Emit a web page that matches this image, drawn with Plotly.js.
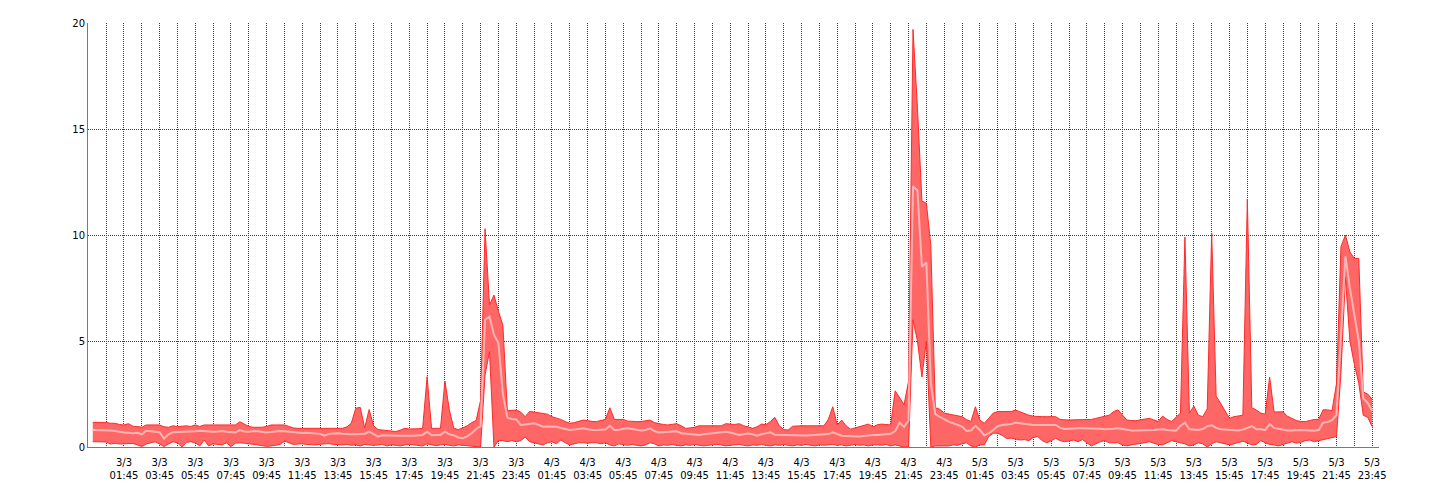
<!DOCTYPE html>
<html>
<head>
<meta charset="utf-8">
<script src="https://cdn.plot.ly/plotly-3.0.1.min.js"></script>
<style>
  html, body { margin: 0; padding: 0; background: #fff; }
  #chart { width: 1440px; height: 500px; }
</style>
</head>
<body>
<div id="chart"></div>
<script>
// Sampling: every 15 minutes from 3/3 00:00 to 5/3 23:45 (4 samples per hour, one row per hour)
const startTime = '2021-03-03T00:00:00';
const stepMinutes = 15;

const maxValues = [
  1.16, 1.16, 1.16, 1.16,
  1.12, 1.12, 1.06, 1.04,
  1.10, 0.98, 0.97, 0.93,
  1.04, 1.04, 1.04, 1.04,
  0.95, 0.93, 1.00, 0.96,
  0.98, 1.00, 0.97, 1.04,
  0.97, 1.04, 1.04, 1.04,
  1.04, 1.04, 1.04, 1.04,
  1.04, 1.19, 1.06, 0.97,
  0.93, 0.93, 0.93, 0.97,
  1.04, 1.04, 1.04, 1.04,
  0.97, 0.90, 0.88, 0.88,
  0.88, 0.88, 0.88, 0.88,
  0.88, 0.88, 0.88, 0.88,
  0.88, 0.95, 1.12, 1.83,
  1.87, 0.90, 1.77, 1.00,
  0.82, 0.80, 0.78, 0.75,
  0.73, 0.80, 0.88, 0.85,
  0.84, 0.86, 0.88, 3.32,
  0.88, 0.88, 0.88, 3.11,
  1.74, 0.88, 0.82, 0.90,
  1.00, 1.15, 1.25, 2.20,
  10.30, 6.70, 7.17, 6.40,
  5.75, 1.72, 1.72, 1.74,
  1.65, 1.43, 1.68, 1.65,
  1.62, 1.60, 1.55, 1.43,
  1.38, 1.30, 1.20, 1.12,
  1.15, 1.22, 1.27, 1.25,
  1.20, 1.20, 1.25, 1.30,
  1.85, 1.30, 1.30, 1.30,
  1.22, 1.20, 1.20, 1.20,
  1.22, 1.27, 1.15, 1.10,
  1.06, 1.04, 1.06, 1.10,
  1.00, 0.88, 0.90, 0.93,
  1.00, 1.00, 1.00, 1.00,
  1.00, 1.00, 1.10, 1.08,
  1.06, 1.10, 1.00, 0.95,
  0.88, 0.95, 1.08, 1.05,
  1.20, 1.40, 1.00, 0.82,
  0.80, 0.98, 1.00, 1.00,
  1.00, 1.00, 1.00, 1.00,
  1.00, 1.30, 1.90, 1.04,
  1.27, 1.00, 0.84, 0.90,
  0.95, 1.00, 1.08, 0.95,
  1.05, 1.08, 1.06, 1.04,
  2.65, 2.30, 2.00, 3.10,
  19.70, 16.00, 11.60, 11.50,
  9.50, 1.85, 1.78, 1.60,
  1.55, 1.50, 1.47, 1.43,
  1.30, 1.20, 1.90, 1.27,
  1.12, 1.35, 1.60, 1.67,
  1.67, 1.67, 1.67, 1.74,
  1.65, 1.59, 1.50, 1.45,
  1.43, 1.43, 1.43, 1.43,
  1.43, 1.30, 1.27, 1.27,
  1.28, 1.28, 1.30, 1.30,
  1.30, 1.35, 1.40, 1.45,
  1.50, 1.67, 1.75, 1.50,
  1.27, 1.25, 1.24, 1.28,
  1.30, 1.35, 1.28, 1.20,
  1.46, 1.30, 1.20, 1.40,
  1.60, 9.90, 1.60, 1.93,
  1.50, 1.43, 1.80, 10.10,
  2.40, 2.06, 1.67, 1.35,
  1.43, 1.46, 1.50, 11.70,
  1.85, 1.75, 1.60, 1.55,
  3.30, 1.65, 1.67, 1.66,
  1.45, 1.35, 1.25, 1.20,
  1.20, 1.25, 1.30, 1.30,
  1.76, 1.75, 1.72, 3.00,
  9.45, 10.00, 9.20, 8.90,
  8.90, 2.60, 2.50, 2.25
];

const meanValues = [
  0.80, 0.80, 0.80, 0.79,
  0.78, 0.75, 0.70, 0.68,
  0.67, 0.65, 0.67, 0.60,
  0.77, 0.74, 0.72, 0.70,
  0.40, 0.60, 0.70, 0.71,
  0.70, 0.70, 0.72, 0.74,
  0.77, 0.75, 0.73, 0.72,
  0.73, 0.75, 0.72, 0.70,
  0.69, 0.80, 0.73, 0.72,
  0.75, 0.74, 0.70, 0.69,
  0.71, 0.75, 0.76, 0.74,
  0.72, 0.68, 0.65, 0.66,
  0.67, 0.66, 0.65, 0.62,
  0.53, 0.62, 0.64, 0.65,
  0.62, 0.60, 0.60, 0.60,
  0.62, 0.62, 0.72, 0.60,
  0.49, 0.55, 0.56, 0.54,
  0.53, 0.54, 0.53, 0.53,
  0.53, 0.55, 0.57, 0.72,
  0.56, 0.57, 0.57, 0.72,
  0.60, 0.55, 0.45, 0.41,
  0.50, 0.65, 0.85, 0.98,
  6.00, 6.15, 5.30, 4.90,
  2.50, 1.38, 1.32, 1.30,
  1.04, 1.06, 1.10, 1.12,
  1.05, 0.96, 0.97, 0.98,
  0.96, 0.90, 0.85, 0.80,
  0.82, 0.86, 0.88, 0.84,
  0.80, 0.80, 0.80, 0.82,
  1.00, 0.80, 0.80, 0.86,
  0.88, 0.85, 0.82, 0.78,
  0.80, 0.88, 0.75, 0.69,
  0.70, 0.71, 0.72, 0.74,
  0.65, 0.63, 0.62, 0.60,
  0.57, 0.60, 0.63, 0.65,
  0.67, 0.69, 0.72, 0.68,
  0.62, 0.57, 0.60, 0.64,
  0.60, 0.53, 0.60, 0.66,
  0.69, 0.58, 0.57, 0.57,
  0.57, 0.57, 0.55, 0.53,
  0.54, 0.56, 0.57, 0.58,
  0.59, 0.61, 0.69, 0.60,
  0.53, 0.52, 0.50, 0.49,
  0.49, 0.52, 0.55, 0.57,
  0.57, 0.58, 0.60, 0.62,
  0.75, 1.15, 0.95, 1.25,
  12.30, 12.10, 8.50, 8.70,
  3.00, 1.55, 1.42, 1.30,
  1.20, 1.12, 1.05, 0.96,
  0.76, 0.78, 1.00, 0.80,
  0.55, 0.65, 0.80, 0.98,
  1.04, 1.06, 1.08, 1.15,
  1.12, 1.08, 1.06, 1.04,
  1.04, 1.04, 1.04, 1.04,
  1.04, 0.90, 0.85, 0.86,
  0.88, 0.88, 0.88, 0.88,
  0.88, 0.87, 0.86, 0.84,
  0.84, 0.86, 0.88, 0.85,
  0.80, 0.78, 0.78, 0.78,
  0.78, 0.78, 0.80, 0.82,
  0.84, 0.80, 0.78, 0.77,
  1.00, 1.15, 0.84, 0.82,
  0.80, 0.85, 0.98, 1.02,
  0.90, 0.84, 0.82, 0.80,
  0.77, 0.78, 0.82, 0.90,
  0.98, 0.84, 0.84, 0.80,
  1.08, 0.90, 0.85, 0.80,
  0.78, 0.78, 0.80, 0.80,
  0.79, 0.77, 0.77, 0.80,
  1.15, 1.18, 1.27, 1.50,
  5.00, 9.00, 7.50, 6.30,
  5.00, 2.30, 2.08, 1.70
];

const minValues = [
  0.25, 0.25, 0.25, 0.24,
  0.14, 0.18, 0.14, 0.15,
  0.17, 0.17, 0.10, 0.02,
  0.14, 0.20, 0.25, 0.14,
  0.02, 0.14, 0.25, 0.20,
  0.00, 0.22, 0.25, 0.20,
  0.05, 0.33, 0.05, 0.15,
  0.12, 0.10, 0.20, 0.02,
  0.18, 0.20, 0.18, 0.16,
  0.14, 0.10, 0.06, 0.03,
  0.05, 0.10, 0.12, 0.28,
  0.20, 0.12, 0.14, 0.15,
  0.12, 0.11, 0.10, 0.13,
  0.14, 0.16, 0.12, 0.10,
  0.10, 0.12, 0.08, 0.10,
  0.05, 0.12, 0.10, 0.08,
  0.10, 0.12, 0.05, 0.10,
  0.08, 0.05, 0.10, 0.12,
  0.10, 0.08, 0.05, 0.15,
  0.10, 0.06, 0.10, 0.12,
  0.08, 0.05, 0.10, 0.08,
  0.05, 0.05, 0.02, 0.00,
  3.40, 4.50, 0.00, 0.30,
  0.30, 0.25, 0.30, 0.25,
  0.30, 0.47, 0.25, 0.20,
  0.15, 0.10, 0.20, 0.25,
  0.15, 0.33, 0.20, 0.10,
  0.15, 0.20, 0.20, 0.18,
  0.20, 0.20, 0.15, 0.20,
  0.10, 0.05, 0.15, 0.10,
  0.08, 0.12, 0.10, 0.05,
  0.10, 0.20, 0.15, 0.05,
  0.10, 0.08, 0.12, 0.10,
  0.05, 0.10, 0.08, 0.12,
  0.10, 0.05, 0.08, 0.10,
  0.12, 0.10, 0.05, 0.08,
  0.10, 0.12, 0.08, 0.05,
  0.10, 0.08, 0.12, 0.10,
  0.05, 0.10, 0.08, 0.12,
  0.10, 0.05, 0.10, 0.08,
  0.12, 0.10, 0.05, 0.10,
  0.08, 0.10, 0.12, 0.08,
  0.10, 0.05, 0.10, 0.12,
  0.08, 0.10, 0.05, 0.10,
  0.10, 0.08, 0.12, 0.05,
  0.10, 0.05, 0.00, 0.00,
  6.00, 5.00, 3.30, 5.00,
  0.00, 0.05, 0.05, 0.05,
  0.05, 0.10, 0.08, 0.15,
  0.20, 0.05, 0.00, 0.10,
  0.10, 0.50, 0.65, 0.65,
  0.55, 0.40, 0.42, 0.38,
  0.33, 0.35, 0.30, 0.45,
  0.49, 0.30, 0.20, 0.30,
  0.41, 0.30, 0.25, 0.28,
  0.33, 0.25, 0.35, 0.20,
  0.05, 0.15, 0.25, 0.30,
  0.20, 0.20, 0.20, 0.10,
  0.05, 0.10, 0.15, 0.17,
  0.20, 0.25, 0.18, 0.12,
  0.10, 0.20, 0.30, 0.25,
  0.20, 0.15, 0.05, 0.10,
  0.20, 0.15, 0.00, 0.15,
  0.25, 0.20, 0.15, 0.10,
  0.15, 0.20, 0.27, 0.20,
  0.10, 0.12, 0.30, 0.20,
  0.12, 0.10, 0.05, 0.12,
  0.20, 0.25, 0.18, 0.22,
  0.30, 0.33, 0.25, 0.30,
  0.35, 0.40, 0.45, 0.49,
  3.50, 8.00, 5.00, 3.90,
  3.00, 1.50, 1.40, 0.96
];

const tickValues = [
  '2021-03-03 01:45', '2021-03-03 03:45', '2021-03-03 05:45', '2021-03-03 07:45',
  '2021-03-03 09:45', '2021-03-03 11:45', '2021-03-03 13:45', '2021-03-03 15:45',
  '2021-03-03 17:45', '2021-03-03 19:45', '2021-03-03 21:45', '2021-03-03 23:45',
  '2021-03-04 01:45', '2021-03-04 03:45', '2021-03-04 05:45', '2021-03-04 07:45',
  '2021-03-04 09:45', '2021-03-04 11:45', '2021-03-04 13:45', '2021-03-04 15:45',
  '2021-03-04 17:45', '2021-03-04 19:45', '2021-03-04 21:45', '2021-03-04 23:45',
  '2021-03-05 01:45', '2021-03-05 03:45', '2021-03-05 05:45', '2021-03-05 07:45',
  '2021-03-05 09:45', '2021-03-05 11:45', '2021-03-05 13:45', '2021-03-05 15:45',
  '2021-03-05 17:45', '2021-03-05 19:45', '2021-03-05 21:45', '2021-03-05 23:45'
];
const tickLabels = [
  '3/3<br>01:45', '3/3<br>03:45', '3/3<br>05:45', '3/3<br>07:45',
  '3/3<br>09:45', '3/3<br>11:45', '3/3<br>13:45', '3/3<br>15:45',
  '3/3<br>17:45', '3/3<br>19:45', '3/3<br>21:45', '3/3<br>23:45',
  '4/3<br>01:45', '4/3<br>03:45', '4/3<br>05:45', '4/3<br>07:45',
  '4/3<br>09:45', '4/3<br>11:45', '4/3<br>13:45', '4/3<br>15:45',
  '4/3<br>17:45', '4/3<br>19:45', '4/3<br>21:45', '4/3<br>23:45',
  '5/3<br>01:45', '5/3<br>03:45', '5/3<br>05:45', '5/3<br>07:45',
  '5/3<br>09:45', '5/3<br>11:45', '5/3<br>13:45', '5/3<br>15:45',
  '5/3<br>17:45', '5/3<br>19:45', '5/3<br>21:45', '5/3<br>23:45'
];
const yTickValues = [0, 5, 10, 15, 20];

// timestamps for the samples
function pad(n) { return (n < 10 ? '0' : '') + n; }
const base = new Date(startTime + 'Z').getTime();
const times = maxValues.map(function (_, i) {
  const d = new Date(base + i * stepMinutes * 60000);
  return d.getUTCFullYear() + '-' + pad(d.getUTCMonth() + 1) + '-' + pad(d.getUTCDate()) +
    ' ' + pad(d.getUTCHours()) + ':' + pad(d.getUTCMinutes());
});

const edgeColor = '#ff2a2a';
const fillColor = '#ff6666';
const meanColor = '#ffb4b4';
const gridColor = '#3c3c3c';
const gridDash = '1px,1px';

const traces = [
  { x: times, y: minValues, type: 'scatter', mode: 'lines',
    line: { color: edgeColor, width: 1 }, hoverinfo: 'skip', showlegend: false },
  { x: times, y: maxValues, type: 'scatter', mode: 'lines', fill: 'tonexty',
    fillcolor: fillColor, line: { color: edgeColor, width: 1 }, hoverinfo: 'skip', showlegend: false },
  { x: times, y: meanValues, type: 'scatter', mode: 'lines',
    line: { color: meanColor, width: 2 }, hoverinfo: 'skip', showlegend: false }
];

const layout = {
  width: 1440, height: 500,
  margin: { l: 88, r: 61, t: 23, b: 53, pad: 0 },
  paper_bgcolor: '#ffffff', plot_bgcolor: '#ffffff',
  font: { family: 'DejaVu Sans, Verdana, sans-serif', size: 10, color: '#000000' },
  showlegend: false,
  xaxis: {
    type: 'date',
    range: ['2021-03-02 23:44', '2021-03-06 00:08'],
    tickmode: 'array', tickvals: tickValues, ticktext: tickLabels,
    ticks: '', ticklabelstandoff: 6,
    showgrid: true, gridcolor: gridColor, gridwidth: 1, griddash: gridDash,
    minor: { tickmode: 'linear', tick0: '2021-03-03 00:45', dtick: 3600000,
             showgrid: true, gridcolor: gridColor, gridwidth: 1, griddash: gridDash, ticks: '' },
    showline: true, linecolor: '#7a7a7a', linewidth: 1, zeroline: false,
    tickangle: 0, fixedrange: true
  },
  yaxis: {
    range: [0, 20], tickmode: 'array', tickvals: yTickValues,
    ticks: '', showgrid: true, gridcolor: gridColor, gridwidth: 1, griddash: gridDash,
    showline: true, linecolor: '#7a7a7a', linewidth: 1, zeroline: false, fixedrange: true
  }
};

Plotly.newPlot('chart', traces, layout, { displayModeBar: false, staticPlot: true });
</script>
</body>
</html>
